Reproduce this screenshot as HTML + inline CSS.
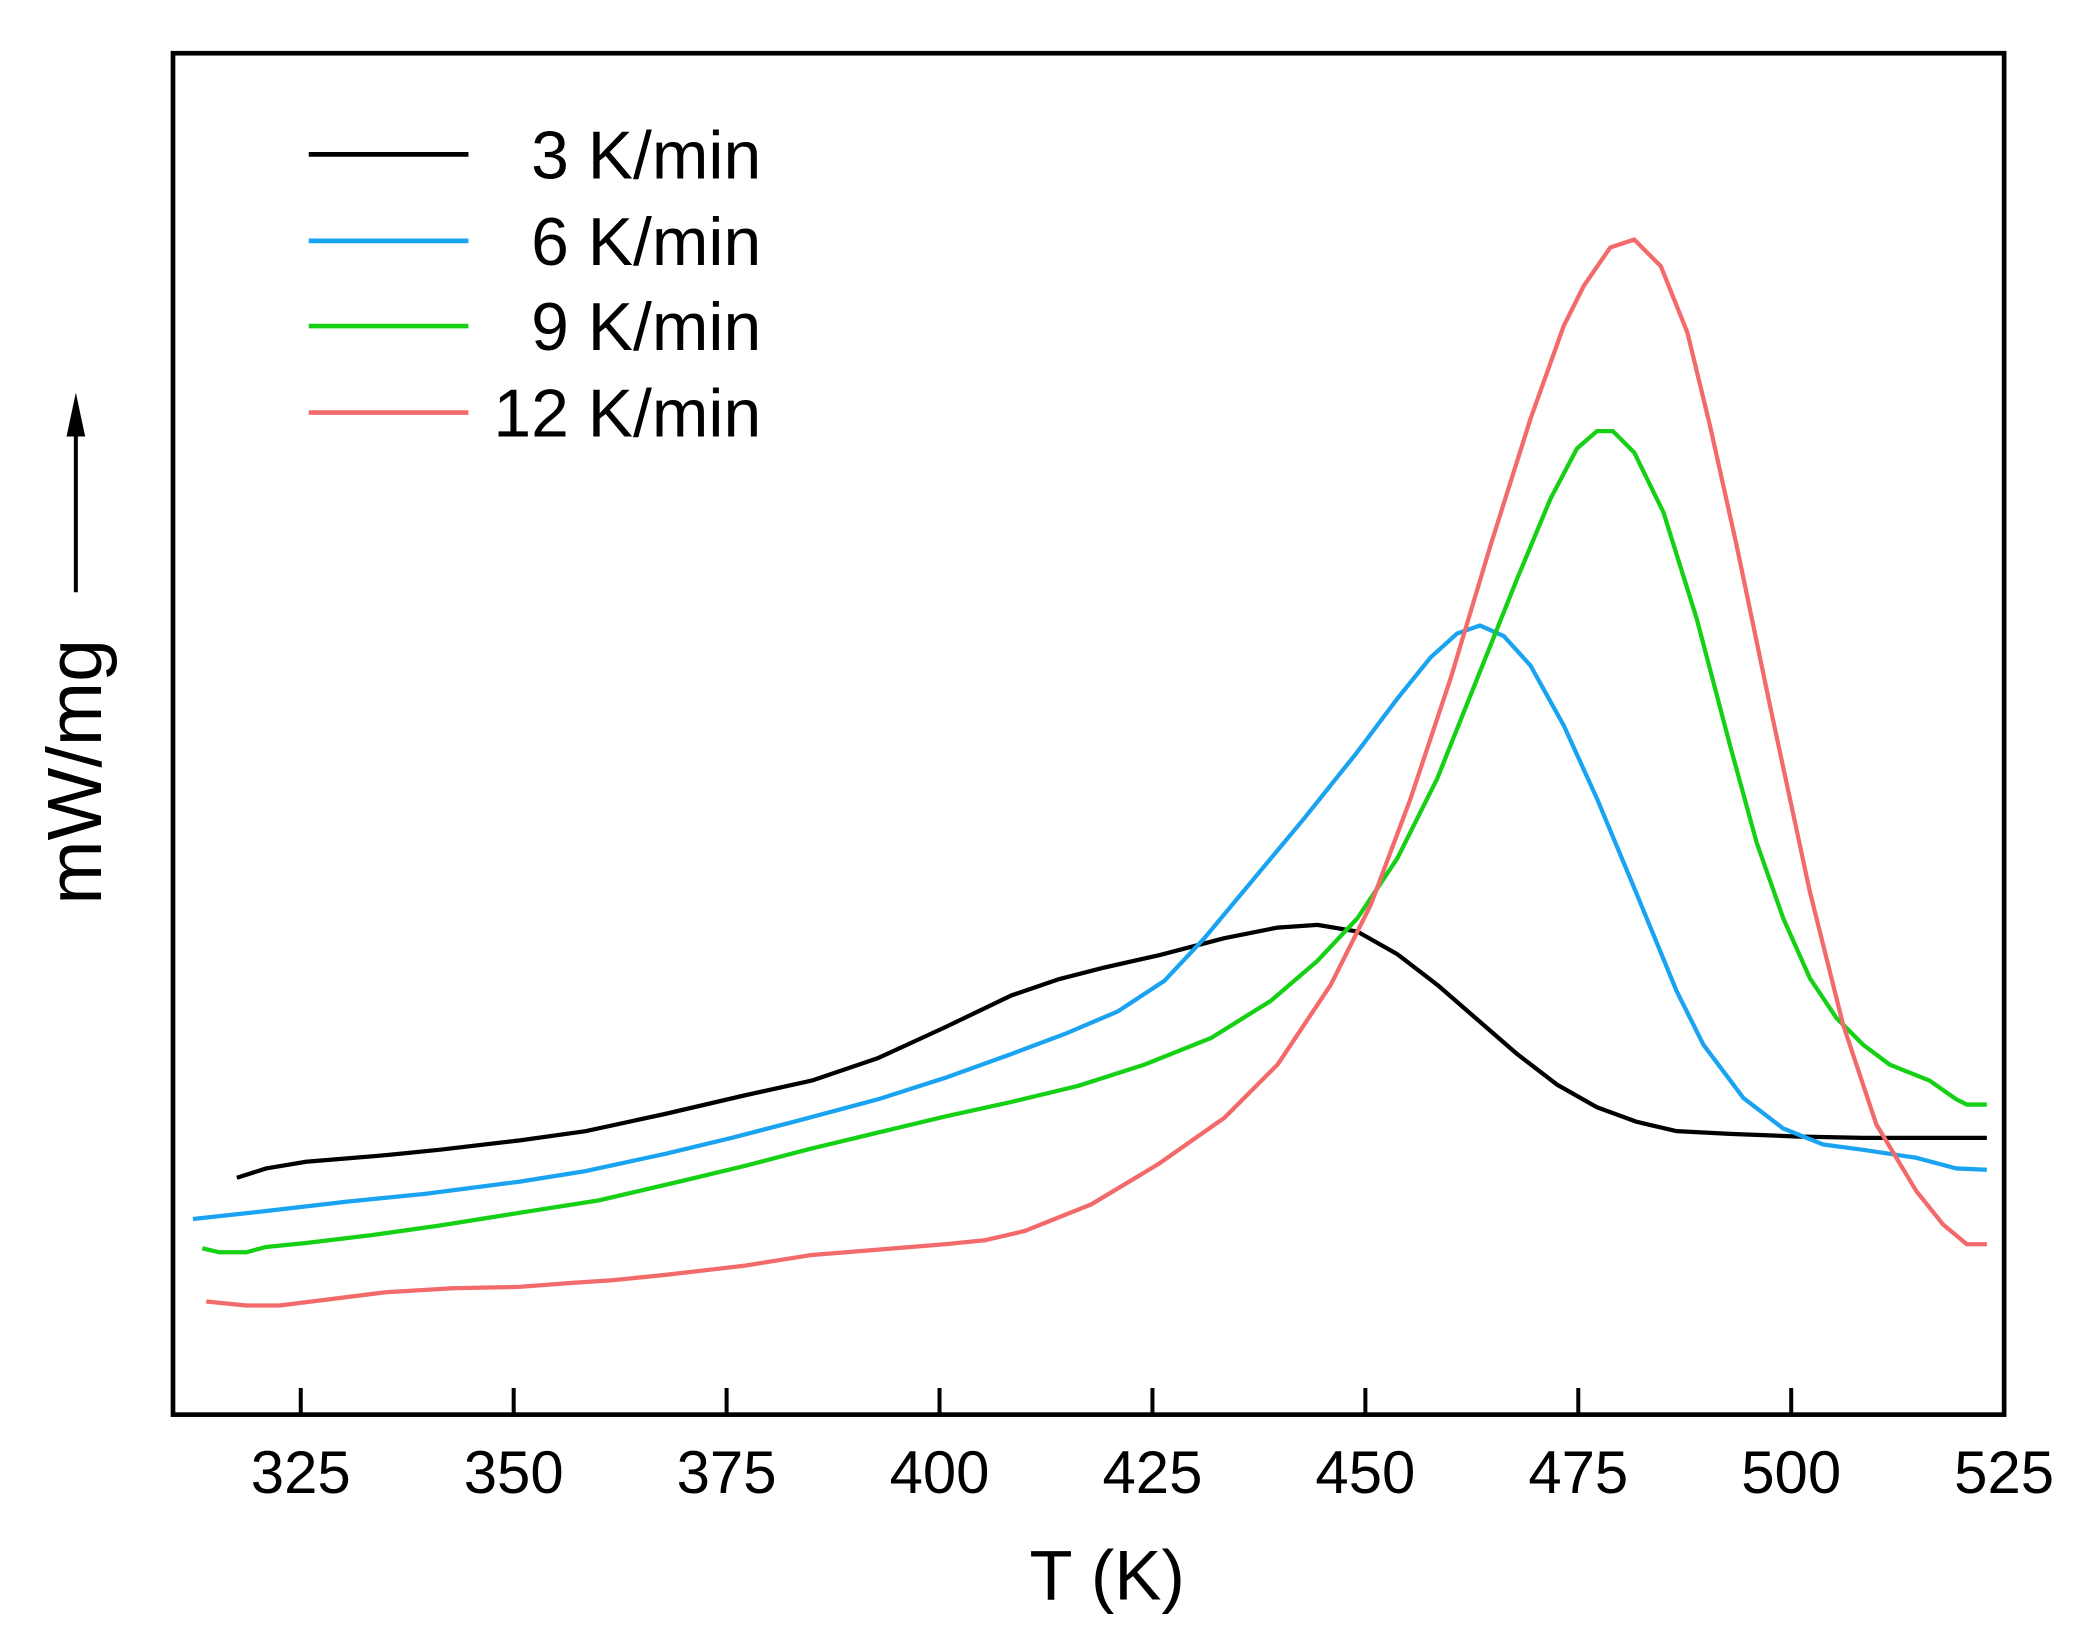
<!DOCTYPE html>
<html><head><style>html,body{margin:0;padding:0;background:#fff}svg{display:block}</style></head>
<body>
<svg width="2076" height="1643" viewBox="0 0 1560 1234.6" preserveAspectRatio="none" xmlns="http://www.w3.org/2000/svg" font-family="Liberation Sans, Arial, sans-serif">
<rect x="0" y="0" width="1560" height="1235" fill="#fff"/>
<rect x="130" y="40" width="1376" height="1023" fill="none" stroke="#000" stroke-width="3.5"/>
<g stroke="#000" stroke-width="3">
<line x1="226" y1="1063" x2="226" y2="1043"/><line x1="386" y1="1063" x2="386" y2="1043"/><line x1="546" y1="1063" x2="546" y2="1043"/><line x1="706" y1="1063" x2="706" y2="1043"/><line x1="866" y1="1063" x2="866" y2="1043"/><line x1="1026" y1="1063" x2="1026" y2="1043"/><line x1="1186" y1="1063" x2="1186" y2="1043"/><line x1="1346" y1="1063" x2="1346" y2="1043"/>
</g>
<g font-size="45" text-anchor="middle" fill="#000">
<text x="226" y="1122">325</text><text x="386" y="1122">350</text><text x="546" y="1122">375</text><text x="706" y="1122">400</text><text x="866" y="1122">425</text><text x="1026" y="1122">450</text><text x="1186" y="1122">475</text><text x="1346" y="1122">500</text><text x="1506" y="1122">525</text>
</g>
<text x="832" y="1202" font-size="53" text-anchor="middle">T (K)</text>
<text transform="translate(76,580) rotate(-90)" font-size="58" text-anchor="middle">mW/mg</text>
<line x1="57" y1="445" x2="57" y2="318" stroke="#000" stroke-width="3"/>
<polygon points="57,295 50,328 64,328" fill="#000"/>
<g fill="none" stroke-width="3.2" stroke-linejoin="round">
<polyline stroke="#000" points="178,885 200,878 230,873 290,868 330,864 390,857 440,850 500,837 560,823 610,812 660,795 710,772 760,748 795,736 830,727 870,718 920,705 960,697 990,695 1020,700 1050,717 1080,740 1110,766 1140,792 1170,815 1200,832 1230,843 1260,850 1300,852 1350,854 1400,855 1493,855"/>
<polyline stroke="#1aa3f0" points="145,916 200,910 260,903 320,897 390,888 440,880 500,867 550,855 600,842 660,826 710,810 760,792 800,777 840,760 875,737 905,705 940,663 980,615 1020,565 1050,525 1075,494 1095,476 1112,470 1130,478 1150,500 1175,545 1200,600 1230,672 1260,745 1280,785 1310,825 1340,848 1370,860 1400,864 1440,870 1470,878 1493,879"/>
<polyline stroke="#16d016" points="152,938 165,941 185,941 200,937 230,934 280,928 330,921 380,913 450,902 510,888 560,876 610,863 660,851 710,839 760,828 810,816 860,800 910,780 955,752 990,722 1020,690 1050,645 1080,585 1110,510 1140,435 1165,375 1185,337 1200,324 1212,324 1228,340 1250,385 1275,465 1300,560 1320,633 1340,690 1360,735 1380,765 1400,785 1420,800 1450,812 1470,826 1478,830 1493,830"/>
<polyline stroke="#f36a6a" points="155,978 185,981 210,981 250,976 290,971 340,968 390,967 430,964 460,962 500,958 560,951 610,943 660,939 710,935 740,932 770,925 820,905 870,875 920,840 960,800 1000,740 1030,680 1060,600 1090,510 1120,410 1150,315 1175,245 1190,215 1210,186 1228,180 1248,200 1268,250 1285,320 1305,410 1330,530 1360,670 1385,770 1410,845 1440,895 1460,920 1478,935 1493,935"/>
</g>
<g stroke-width="3.5">
<line x1="232" y1="116" x2="352" y2="116" stroke="#000"/>
<line x1="232" y1="181" x2="352" y2="181" stroke="#1aa3f0"/>
<line x1="232" y1="245" x2="352" y2="245" stroke="#16d016"/>
<line x1="232" y1="310" x2="352" y2="310" stroke="#f36a6a"/>
</g>
<g font-size="51" text-anchor="end">
<text x="572" y="134">3 K/min</text><text x="572" y="199">6 K/min</text><text x="572" y="263">9 K/min</text><text x="572" y="328">12 K/min</text>
</g>
</svg>
</body></html>
